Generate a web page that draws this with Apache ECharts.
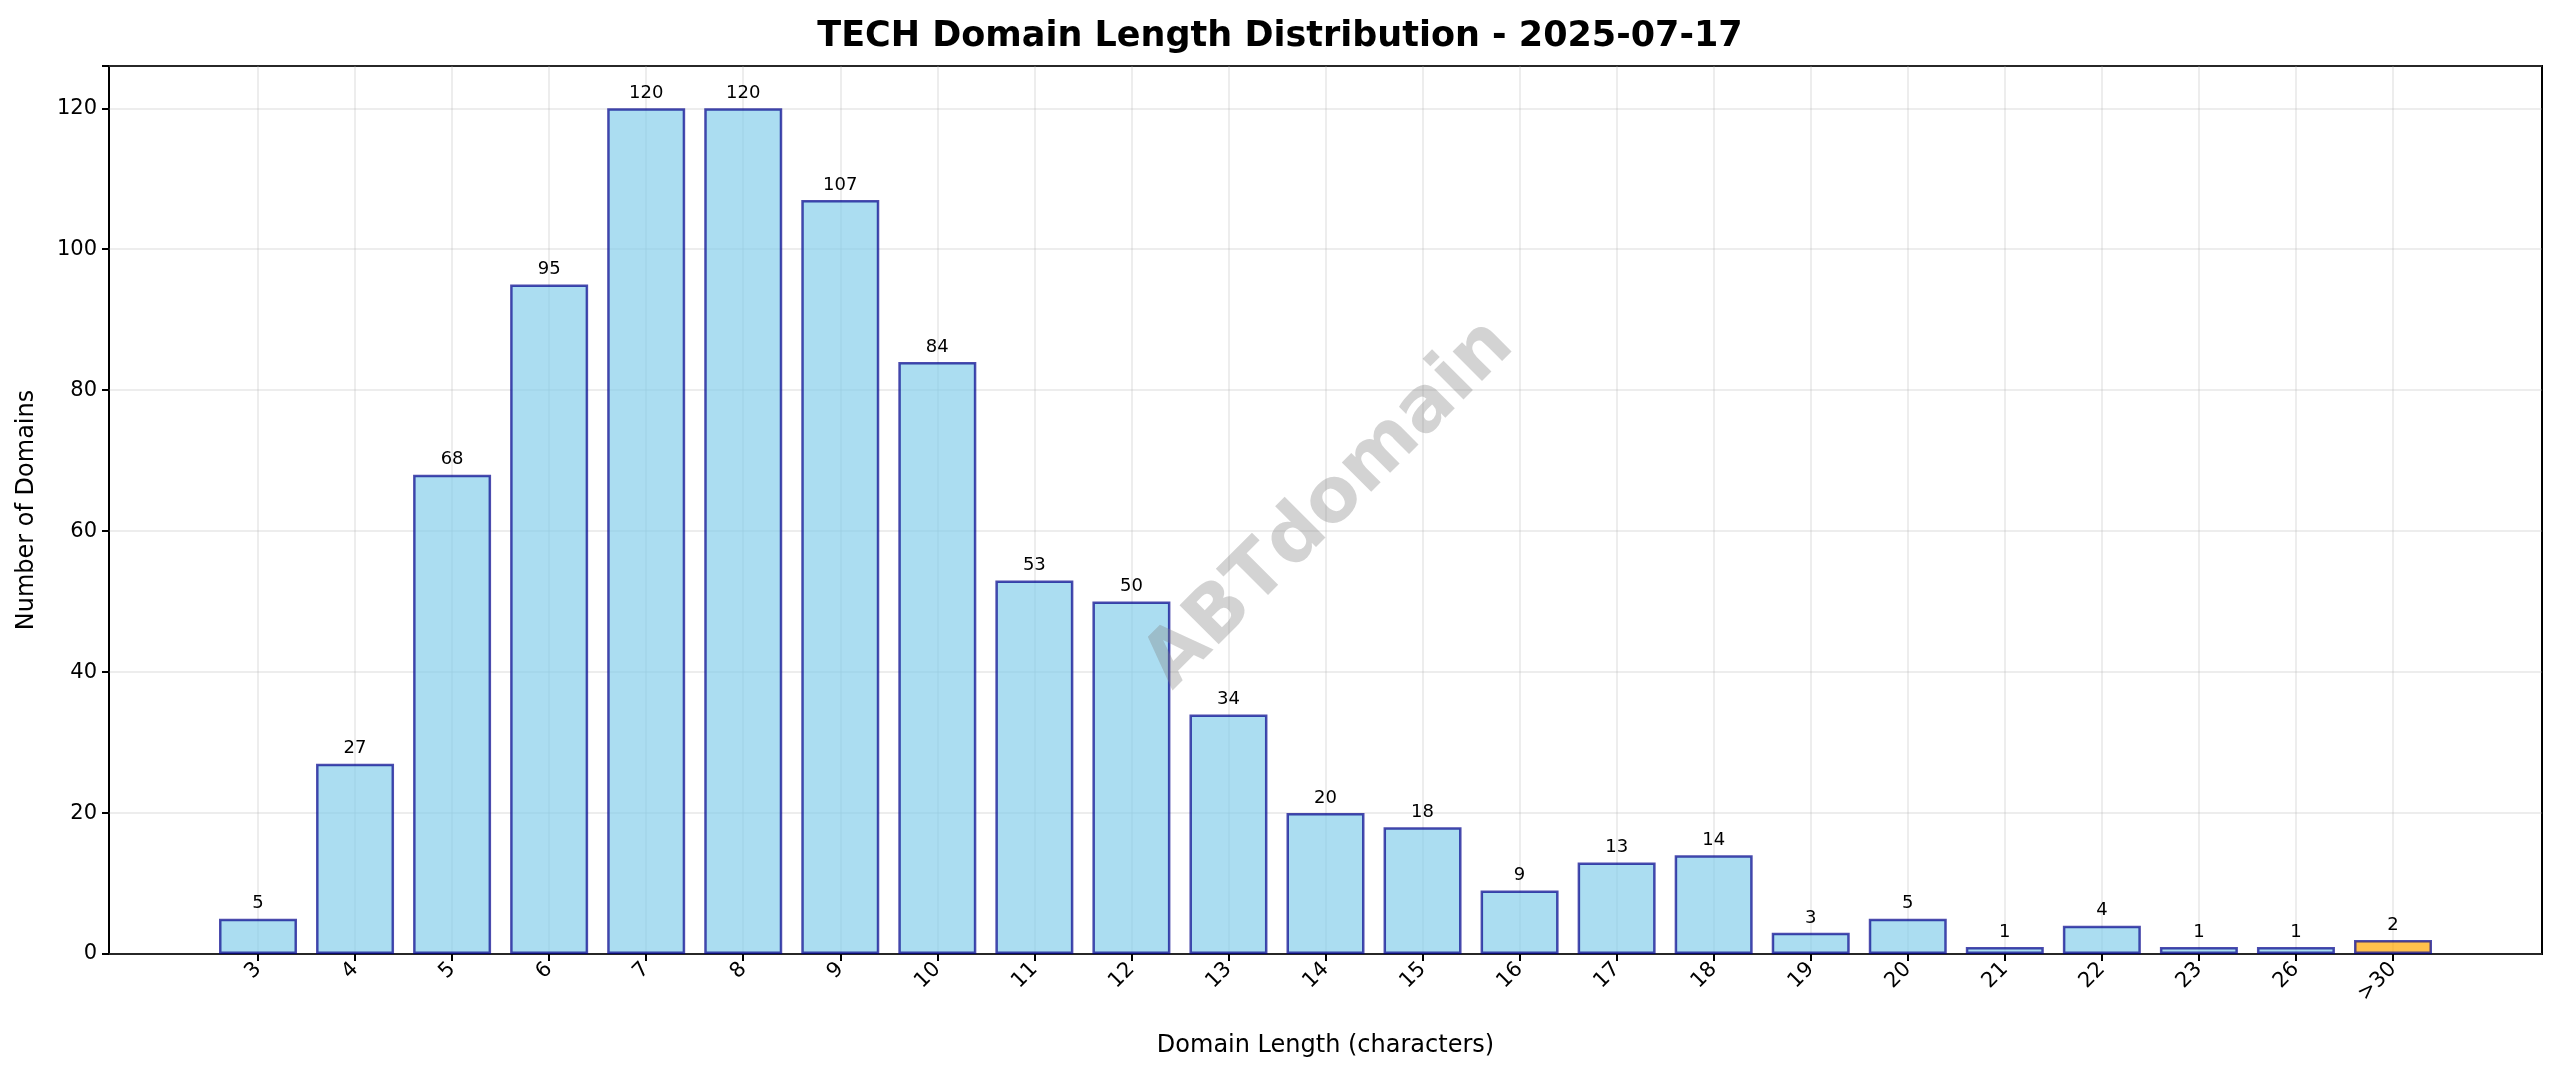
<!DOCTYPE html>
<html><head><meta charset="utf-8">
<script src="https://cdn.jsdelivr.net/npm/echarts@6/dist/echarts.min.js"></script>
<style>html,body{margin:0;padding:0;background:#fff}#c{width:2560px;height:1087px}</style>
</head><body><div id="c"></div>
<script>
const categories = ['3','4','5','6','7','8','9','10','11','12','13','14','15','16','17','18','19','20','21','22','23','26','>30'];
const counts = [5,27,68,95,120,120,107,84,53,50,34,20,18,9,13,14,3,5,1,4,1,1,2];
const yTicks = [0,20,40,60,80,100,120];
const title = 'TECH Domain Length Distribution - 2025-07-17';

const font = 'DejaVu Sans';
const chart = echarts.init(document.getElementById('c'));
const data = counts.map((v,i)=>({
  value:v,
  itemStyle: categories[i]==='>30' ? {color:'rgba(255,165,0,0.7)'} : {}
}));
chart.setOption({
  animation:false,
  title:{text:title,left:'center',top:14,textStyle:{fontFamily:font,fontWeight:'bold',fontSize:35,color:'#000'}},
  grid:[
    {left:109,right:18,top:66,bottom:133,show:true,borderColor:'#000',borderWidth:2,backgroundColor:'transparent'},
    {left:258,right:167,top:66,bottom:133}
  ],
  xAxis:[
    {gridIndex:0,type:'value',min:0,max:1,show:false},
    {gridIndex:1,type:'category',data:categories,boundaryGap:false,
     axisLine:{show:false},
     axisTick:{show:true,length:7,lineStyle:{color:'#000',width:2}},
     axisLabel:{rotate:45,fontFamily:font,fontSize:21,color:'#000',margin:12,interval:0},
     splitLine:{show:true,interval:0,lineStyle:{color:'rgba(176,176,176,0.3)',width:1.5}},
     name:'Domain Length (characters)',nameLocation:'middle',nameGap:80,
     nameTextStyle:{fontFamily:font,fontSize:24,color:'#000'}}
  ],
  yAxis:[
    {gridIndex:0,type:'value',min:0,max:126,interval:20,
     axisLine:{show:false},
     axisTick:{show:true,length:7,lineStyle:{color:'#000',width:2}},
     axisLabel:{fontFamily:font,fontSize:21,color:'#000',margin:12,
       formatter:v=>yTicks.includes(v)?String(v):''},
     splitLine:{show:true,lineStyle:{color:'rgba(176,176,176,0.3)',width:1.5}},
     name:'Number of Domains',nameLocation:'middle',nameGap:70,
     nameTextStyle:{fontFamily:font,fontSize:24,color:'#000'}},
    {gridIndex:1,type:'value',min:0,max:126,show:false,splitLine:{show:false}}
  ],
  series:[{
    type:'bar',xAxisIndex:1,yAxisIndex:1,data:data,barWidth:78,clip:false,
    itemStyle:{color:'rgba(135,206,235,0.7)',borderColor:'rgba(0,0,139,0.7)',borderWidth:2.5},
    label:{show:true,position:'top',distance:6,fontFamily:font,fontSize:18,color:'#000'},
    z:3
  }],
  graphic:[{
    type:'text',x:1330,y:505,rotation:Math.PI/4,z:10,
    style:{text:'ABTdomain',fontFamily:font,fontWeight:'bold',fontSize:76,
      fill:'rgba(128,128,128,0.35)',align:'center',verticalAlign:'middle'}
  }]
});
</script></body></html>
